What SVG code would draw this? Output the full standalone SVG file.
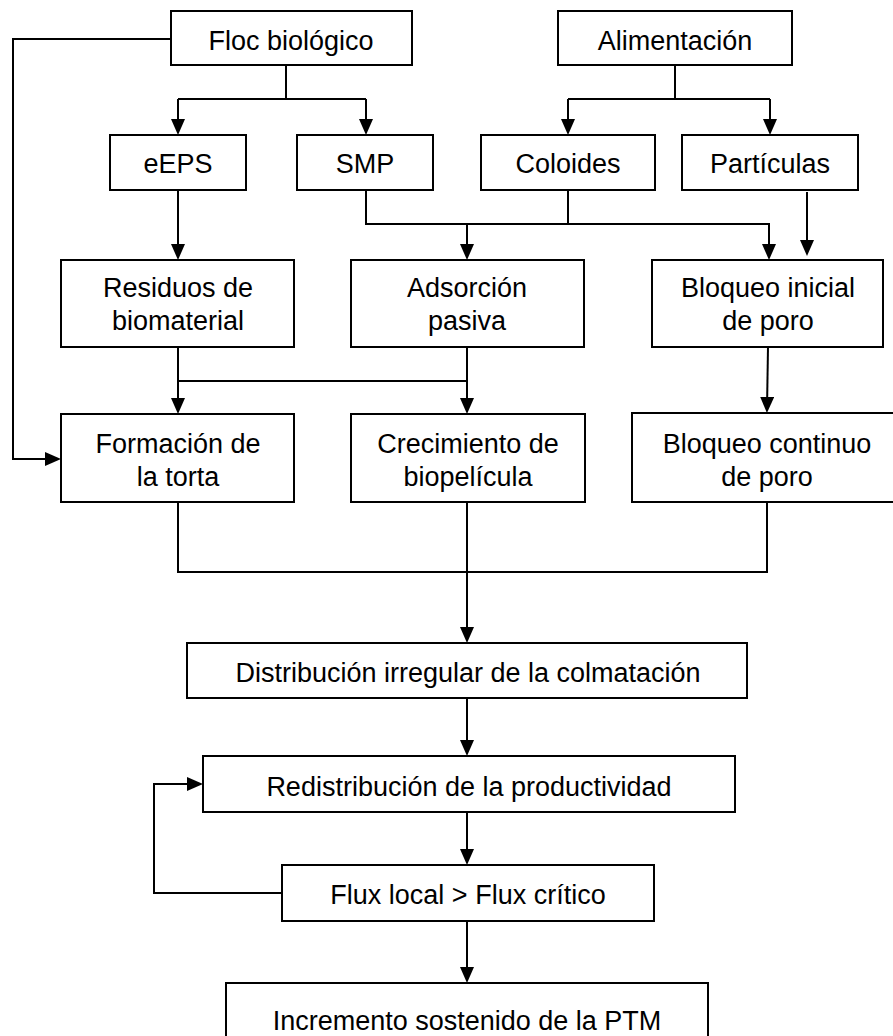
<svg xmlns="http://www.w3.org/2000/svg" width="893" height="1036" viewBox="0 0 893 1036">
  <style>
    .box { fill: #ffffff; stroke: #000000; stroke-width: 2; }
    .lbl { font-family: "Liberation Sans", Arial, sans-serif; font-size: 27px; fill: #000000; text-anchor: middle; }
    .con { fill: none; stroke: #000000; stroke-width: 2; }
  </style>
  <defs>
    <marker id="arr" markerUnits="userSpaceOnUse" markerWidth="16" markerHeight="14" refX="12" refY="7" orient="auto">
      <path d="M0,0 L16,7 L0,14 z" fill="#000000"/>
    </marker>
  </defs>
  <rect width="893" height="1036" fill="#ffffff"/>

  <g id="connectors">
    <path class="con" d="M286,65 V99"/>
    <path class="con" d="M178,99 H366"/>
    <path class="con" d="M178,99 V131" marker-end="url(#arr)"/>
    <path class="con" d="M366,99 V131" marker-end="url(#arr)"/>
    <path class="con" d="M171,39 H13 V459 H57" marker-end="url(#arr)"/>
    <path class="con" d="M675,65 V99"/>
    <path class="con" d="M568,99 H770"/>
    <path class="con" d="M568,99 V131" marker-end="url(#arr)"/>
    <path class="con" d="M770,99 V131" marker-end="url(#arr)"/>
    <path class="con" d="M178,190 V256" marker-end="url(#arr)"/>
    <path class="con" d="M366,190 V224 H769 V256" marker-end="url(#arr)"/>
    <path class="con" d="M568,190 V224"/>
    <path class="con" d="M467,224 V256" marker-end="url(#arr)"/>
    <path class="con" d="M807,192 V252" marker-end="url(#arr)"/>
    <path class="con" d="M178,347 V410" marker-end="url(#arr)"/>
    <path class="con" d="M178,381 H467"/>
    <path class="con" d="M467,347 V410" marker-end="url(#arr)"/>
    <path class="con" d="M768,347 L767,409" marker-end="url(#arr)"/>
    <path class="con" d="M178,502 V572 H767 V502"/>
    <path class="con" d="M467,502 V639" marker-end="url(#arr)"/>
    <path class="con" d="M467,698 V752" marker-end="url(#arr)"/>
    <path class="con" d="M467,812 V861" marker-end="url(#arr)"/>
    <path class="con" d="M282,893 H154 V784 H199" marker-end="url(#arr)"/>
    <path class="con" d="M467,921 V979" marker-end="url(#arr)"/>
  </g>

  <g id="floc">
    <rect class="box" x="171" y="11" width="241" height="54"/>
    <text class="lbl" x="291" y="50">Floc biológico</text>
  </g>
  <g id="alimentacion">
    <rect class="box" x="558" y="11" width="234" height="54"/>
    <text class="lbl" x="675" y="50">Alimentación</text>
  </g>
  <g id="eeps">
    <rect class="box" x="110" y="135" width="136" height="55"/>
    <text class="lbl" x="178" y="173">eEPS</text>
  </g>
  <g id="smp">
    <rect class="box" x="297" y="135" width="136" height="55"/>
    <text class="lbl" x="365" y="173">SMP</text>
  </g>
  <g id="coloides">
    <rect class="box" x="481" y="135" width="174" height="55"/>
    <text class="lbl" x="568" y="173">Coloides</text>
  </g>
  <g id="particulas">
    <rect class="box" x="682" y="135" width="176" height="55"/>
    <text class="lbl" x="770" y="173">Partículas</text>
  </g>
  <g id="residuos">
    <rect class="box" x="61" y="260" width="233" height="87"/>
    <text class="lbl" x="178" y="297">Residuos de</text>
    <text class="lbl" x="178" y="330">biomaterial</text>
  </g>
  <g id="adsorcion">
    <rect class="box" x="351" y="260" width="233" height="87"/>
    <text class="lbl" x="467" y="297">Adsorción</text>
    <text class="lbl" x="467" y="330">pasiva</text>
  </g>
  <g id="bloqueo-inicial">
    <rect class="box" x="652" y="260" width="231" height="87"/>
    <text class="lbl" x="768" y="297">Bloqueo inicial</text>
    <text class="lbl" x="768" y="330">de poro</text>
  </g>
  <g id="formacion">
    <rect class="box" x="61" y="414" width="233" height="88"/>
    <text class="lbl" x="178" y="453">Formación de</text>
    <text class="lbl" x="178" y="486">la torta</text>
  </g>
  <g id="crecimiento">
    <rect class="box" x="351" y="414" width="234" height="88"/>
    <text class="lbl" x="468" y="453">Crecimiento de</text>
    <text class="lbl" x="468" y="486">biopelícula</text>
  </g>
  <g id="bloqueo-continuo">
    <rect class="box" x="632" y="413" width="272" height="89"/>
    <text class="lbl" x="767" y="453">Bloqueo continuo</text>
    <text class="lbl" x="767" y="486">de poro</text>
  </g>
  <g id="distribucion">
    <rect class="box" x="187" y="643" width="560" height="55"/>
    <text class="lbl" x="468" y="682">Distribución irregular de la colmatación</text>
  </g>
  <g id="redistribucion">
    <rect class="box" x="203" y="756" width="532" height="56"/>
    <text class="lbl" x="469" y="796">Redistribución de la productividad</text>
  </g>
  <g id="flux">
    <rect class="box" x="282" y="865" width="372" height="56"/>
    <text class="lbl" x="468" y="904">Flux local &gt; Flux crítico</text>
  </g>
  <g id="incremento">
    <rect class="box" x="226" y="983" width="482" height="62"/>
    <text class="lbl" x="467" y="1030">Incremento sostenido de la PTM</text>
  </g>
</svg>
